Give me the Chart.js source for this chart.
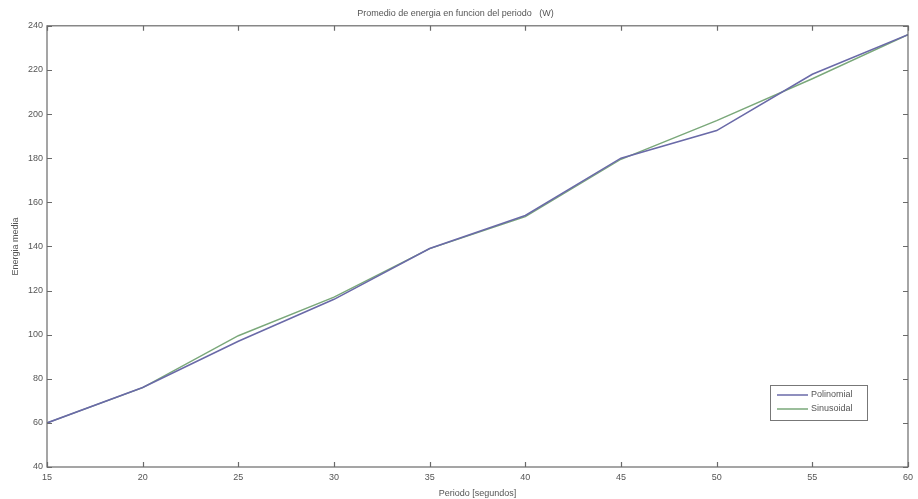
<!DOCTYPE html>
<html>
<head>
<meta charset="utf-8">
<script src="https://cdn.jsdelivr.net/npm/chart.js@4.4.1/dist/chart.umd.min.js"></script>
<style>
  html, body { margin: 0; padding: 0; background: #fff; }
  #wrap { width: 918px; height: 499px; }
</style>
</head>
<body>
<div id="wrap"><canvas id="c" width="918" height="499"></canvas></div>
<script>
// Period in seconds
const periodos = [15, 20, 25, 30, 35, 40, 45, 50, 55, 60];
// Mean energy for each model
const polinomial = [60, 76, 97, 116, 139, 154, 180, 192.5, 218, 236];
const sinusoidal = [60, 76, 99.5, 117, 139, 153.5, 179.5, 197, 216, 236];
const xTicks = [15, 20, 25, 30, 35, 40, 45, 50, 55, 60];
const yTicks = [40, 60, 80, 100, 120, 140, 160, 180, 200, 220, 240];

const FONT = 'Liberation Sans, Arial, sans-serif';
const AXIS_COLOR = '#6a6a6a';
const TEXT_COLOR = '#555';

// Box around the plot with inward tick marks on all four sides, plus legend
const boxPlugin = {
  id: 'box',
  afterDraw(chart) {
    const { ctx, chartArea: a, scales: { x, y } } = chart;
    ctx.save();
    ctx.strokeStyle = AXIS_COLOR;
    ctx.lineWidth = 1.2;
    ctx.strokeRect(a.left, a.top, a.right - a.left, a.bottom - a.top);
    const t = 5;
    ctx.beginPath();
    xTicks.forEach(v => {
      const px = Math.round(x.getPixelForValue(v)) + 0.5;
      ctx.moveTo(px, a.bottom); ctx.lineTo(px, a.bottom - t);
      ctx.moveTo(px, a.top); ctx.lineTo(px, a.top + t);
    });
    yTicks.forEach(v => {
      const py = Math.round(y.getPixelForValue(v)) + 0.5;
      ctx.moveTo(a.left, py); ctx.lineTo(a.left + t, py);
      ctx.moveTo(a.right, py); ctx.lineTo(a.right - t, py);
    });
    ctx.stroke();

    // legend box
    const lx = 770, ly = 385, lw = 97, lh = 35;
    ctx.fillStyle = '#fff';
    ctx.fillRect(lx, ly, lw, lh);
    ctx.strokeStyle = '#777';
    ctx.lineWidth = 1;
    ctx.strokeRect(lx + 0.5, ly + 0.5, lw, lh);
    ctx.font = '9px ' + FONT;
    ctx.textBaseline = 'middle';
    chart.data.datasets.forEach((ds, i) => {
      const yy = ly + 10 + i * 14;
      ctx.strokeStyle = ds.borderColor;
      ctx.lineWidth = 1.5;
      ctx.beginPath();
      ctx.moveTo(lx + 7, yy); ctx.lineTo(lx + 38, yy);
      ctx.stroke();
      ctx.fillStyle = TEXT_COLOR;
      ctx.fillText(ds.label, lx + 41, yy);
    });
    ctx.restore();
  }
};

new Chart(document.getElementById('c'), {
  type: 'line',
  data: {
    datasets: [
      {
        label: 'Polinomial',
        data: periodos.map((p, i) => ({ x: p, y: polinomial[i] })),
        borderColor: '#6a6aa8',
        borderWidth: 1.6,
        pointRadius: 0,
        tension: 0
      },
      {
        label: 'Sinusoidal',
        data: periodos.map((p, i) => ({ x: p, y: sinusoidal[i] })),
        borderColor: '#7aa87a',
        borderWidth: 1.4,
        pointRadius: 0,
        tension: 0
      }
    ]
  },
  options: {
    responsive: false,
    animation: false,
    devicePixelRatio: 1,
    layout: { padding: { top: 0, right: 7, bottom: 0, left: 0 } },
    plugins: {
      legend: { display: false },
      tooltip: { enabled: false },
      title: {
        display: true,
        text: 'Promedio de energia en funcion del periodo   (W)',
        color: TEXT_COLOR,
        font: { family: FONT, size: 9, weight: 'normal' },
        padding: { top: 8, bottom: 7 }
      }
    },
    scales: {
      x: {
        type: 'linear',
        min: 15, max: 60,
        afterBuildTicks(s) { s.ticks = xTicks.map(v => ({ value: v })); },
        afterFit(s) { s.height = 32; },
        grid: { display: false, drawTicks: false },
        border: { display: false },
        ticks: { color: TEXT_COLOR, font: { family: FONT, size: 9 }, padding: 5, maxRotation: 0 },
        title: {
          display: true, text: 'Periodo [segundos]', color: TEXT_COLOR,
          font: { family: FONT, size: 9 }, padding: { top: 0, bottom: 0 }
        }
      },
      y: {
        type: 'linear',
        min: 40, max: 240,
        afterBuildTicks(s) { s.ticks = yTicks.map(v => ({ value: v })); },
        afterFit(s) { s.width = 47; },
        grid: { display: false, drawTicks: false },
        border: { display: false },
        ticks: { color: TEXT_COLOR, font: { family: FONT, size: 9 }, padding: 4 },
        title: {
          display: true, text: 'Energia media', color: TEXT_COLOR,
          font: { family: FONT, size: 9 }, padding: { top: 10, bottom: 0 }
        }
      }
    }
  },
  plugins: [boxPlugin]
});
</script>
</body>
</html>
